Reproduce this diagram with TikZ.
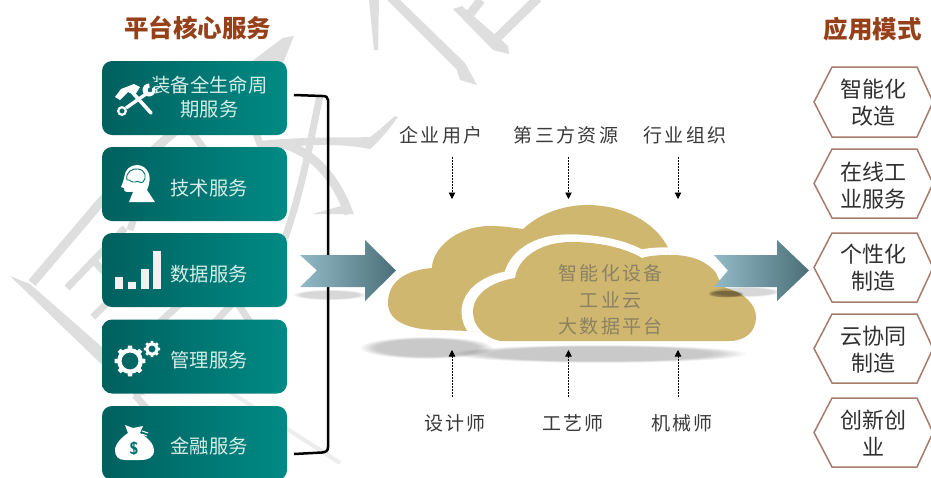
\documentclass[tikz,border=0pt]{standalone}
\usepackage{fontspec}
\newfontfamily\cjk{Noto Sans CJK SC}
\newfontfamily\cjksp[LetterSpace=12]{Noto Sans CJK SC}
\usetikzlibrary{arrows.meta}
\definecolor{wm}{HTML}{DEDEDE}
\definecolor{tealL}{HTML}{00605E}
\definecolor{tealR}{HTML}{008A85}
\definecolor{tealM}{HTML}{00706C}
\definecolor{boxtxt}{HTML}{D5EEE8}
\definecolor{titlec}{HTML}{96401A}
\definecolor{cloudc}{HTML}{CFB76F}
\definecolor{cloudt}{HTML}{8C8263}
\definecolor{hexe}{HTML}{A67C6C}
\definecolor{hext}{HTML}{303030}
\definecolor{arrL}{HTML}{92BAC6}
\definecolor{arrR}{HTML}{4A6F79}
\definecolor{lab}{HTML}{3A3A3A}
\tikzset{
  wmstroke/.style={draw=wm,line width=9pt,line cap=butt},
  wmthin/.style={draw=wm,line width=7pt,line cap=butt},
  svcbox/.style={rounded corners=10pt,minimum width=185pt,minimum height=74pt,inner sep=0pt,left color=tealL,right color=tealR,draw=none},
  svctxt/.style={font=\cjk\fontsize{19.3}{23}\selectfont,text=boxtxt,align=center,inner sep=0pt},
  hdr/.style={font=\cjk\bfseries\fontsize{24.5}{28}\selectfont,text=titlec,inner sep=0pt},
  hexbox/.style={draw=hexe,line width=1.5pt,fill=white,line join=miter},
  hextxt/.style={font=\cjk\fontsize{22}{27}\selectfont,text=hext,align=center,inner sep=0pt},
  lbl/.style={font=\cjksp\fontsize{19}{22}\selectfont,text=lab,inner sep=0pt},
  cloudlbl/.style={font=\cjksp\fontsize{19}{26.5}\selectfont,text=cloudt,align=center,inner sep=0pt},
  dasharrow/.style={draw=black,line width=.8pt,dash pattern=on 1.8pt off 1.2pt,-{Triangle[width=6.5pt,length=6.5pt]}},
  bracketline/.style={draw=black,line width=2.5pt},
  bigarrow/.style={left color=arrL,right color=arrR,draw=none},
}
\newcommand{\softblob}[5]{% cx cy rx ry opacity
  \foreach \k in {1.0,.97,.94,.91,.88,.85,.82,.78}{
    \fill[black,opacity=#5] (#1,#2) ellipse ({#3*\k} and {#4*\k});
  }}
\newcommand{\gearicon}[6]{% cx cy r-inner r-body r-tooth half-width(deg)
  \foreach \ang in {0,45,...,315}{
    \fill[white] ({#1+#4*cos(\ang-#6)},{#2+#4*sin(\ang-#6)}) -- ({#1+#5*cos(\ang-#6*.7)},{#2+#5*sin(\ang-#6*.7)}) -- ({#1+#5*cos(\ang+#6*.7)},{#2+#5*sin(\ang+#6*.7)}) -- ({#1+#4*cos(\ang+#6)},{#2+#4*sin(\ang+#6)}) -- cycle;
  }
  \fill[white,even odd rule] (#1,#2) circle (#4+.4) (#1,#2) circle (#3);
}
\newcommand{\hexa}[2]{% top bottom
  \path[hexbox] (832,#1) -- (917,#1) -- (933,{(#1+#2)/2}) -- (917,#2) -- (832,#2) -- (814,{(#1+#2)/2}) -- cycle;}
\def\frontcloud{(500,341) .. controls (483,337) and (473,325) .. (473,312)
  .. controls (473,295) and (490,282) .. (515,278)
  .. controls (518,258) and (540,242) .. (571,242)
  .. controls (600,242) and (625,248) .. (642,258)
  .. controls (652,255) and (662,255) .. (672,255)
  .. controls (692,255) and (708,262) .. (716,273)
  .. controls (719,280) and (722,285) .. (726,288)
  .. controls (745,293) and (756,305) .. (756,317)
  .. controls (756,332) and (745,341) .. (729,341) -- cycle}
\def\backcloud{(439,330) .. controls (410,330) and (388,322) .. (388,303)
  .. controls (388,282) and (405,270) .. (432,268)
  .. controls (432,250) and (455,226) .. (490,226)
  .. controls (505,226) and (515,228) .. (523,229)
  .. controls (540,213) and (565,205) .. (587,205)
  .. controls (630,205) and (660,228) .. (669,250)
  -- (650,300) -- (500,332) -- cycle}
\begin{document}
\begin{tikzpicture}[x=1pt,y=-1pt]
\clip (0,0) rectangle (931,477);
\fill[white] (0,0) rectangle (931,477);
% watermark
\fill[wm] (387,0) -- (400,0) -- (465,63) -- (477,85) -- (460,80) -- (457,70) -- cycle;
\fill[wm] (369,0) -- (379,0) -- (378,50) -- (374,50) -- cycle;
\fill[wm] (453,9) -- (462,6) -- (508,46) -- (509,54) -- (493,50) -- cycle;
\path[wmstroke] (538,-2) -- (495,40);
\path[wmstroke] (481,0) -- (470,14);
\fill[wm] (398,117) .. controls (385,135) and (375,145) .. (370,149) .. controls (350,145) and (320,142) .. (260,150) -- (260,141) .. controls (310,136) and (350,138) .. (370,137) .. controls (380,130) and (390,120) .. (395,116) -- cycle;
\path[wmstroke] (280,143) .. controls (310,150) and (335,175) .. (349,214);
\fill[wm] (312,214) -- (345,205) -- (354,214) -- cycle;
\path[wmthin] (320,96) .. controls (312,130) and (305,180) .. (285,238);
\fill[wm] (294,36) -- (283,38) -- (240,95) -- (270,95) -- cycle;
\path[wmstroke] (285,42) .. controls (220,90) and (150,150) .. (100,203) -- (32,283);
\fill[wm] (10,276) -- (30,284) -- (103,348) -- (145,395) -- (135,396) -- (95,358) -- cycle;
\path[wmthin] (67,288) -- (125,228);
\path[wmthin] (93,317) -- (125,285);
\path[wmthin] (95,262) -- (135,305);
\path[wmthin] (160,322) -- (190,295);
\path[wmthin] (215,322) -- (245,290);
\path[wmthin] (232,295) -- (252,325);
\path[wmthin] (190,130) -- (205,150);
\path[wmthin] (255,130) -- (262,150);
\path[wmthin] (135,215) -- (130,230);
\path[wmthin] (135,395) -- (165,430);
\draw[wm!55,line width=4pt] (207,377) -- (340,463);
% service boxes
\node[svcbox] (box1) at (194.5,98) {};
\node[svcbox] (box2) at (194.5,184) {};
\node[svcbox] (box3) at (194.5,270) {};
\node[svcbox] (box4) at (194.5,356.5) {};
\node[svcbox] (box5) at (194.5,443) {};
% bracket
\coordinate (brT) at (294,95);
\coordinate (brB) at (294,454);
\path[bracketline] (brT) -- (322,96) .. controls (326,96) and (328,97) .. (328,100) -- (328,447) .. controls (328,451) and (326,452) .. (322,452.5) -- (brB);
% titles
\node[hdr] (title1) at (197.5,28) {平台核心服务};
\node[hdr] (title2) at (872.5,29) {应用模式};
% box texts
\node[svctxt,font=\cjk\fontsize{19.3}{24}\selectfont] (txt1) at (209.5,97) {装备全生命周\\期服务};
\node[svctxt] (txt2) at (209,188) {技术服务};
\node[svctxt] (txt3) at (209,274) {数据服务};
\node[svctxt] (txt4) at (209,360) {管理服务};
\node[svctxt] (txt5) at (209,446) {金融服务};
% tools icon
\draw[white,line width=3.6pt,line cap=round] (132,92) -- (151,113);
\fill[white] (115,97) -- (121,89) -- (134,84) -- (140,87) -- (135,95) -- (128,92) -- (120,100) -- cycle;
\draw[white,line width=3.4pt] (146,94) -- (126,108);
\draw[white,line width=2.2pt] (122,111) circle (3.8);
\fill[white] (149,90) circle (6.5);
\fill[tealM] (150,90) -- (160,82) -- (149,82) -- cycle;
\fill[tealM] (150,90) circle (2.3);
% head icon
\fill[white] (129,202) -- (155,202) -- (147,190) .. controls (150,183) and (150,178) .. (149,174)
  .. controls (147,168) and (142,165) .. (137,165) .. controls (130,165) and (125,170) .. (124.5,176)
  -- (123,182) -- (121,187) -- (124,188) -- (124.5,191) .. controls (127,193) and (132,191) .. (133,192) -- cycle;
\draw[tealM,line width=.9pt] (127,180) .. controls (125,172) and (133,168) .. (138,169) .. controls (146,170) and (147,178) .. (143,182) .. controls (140,184) and (139,180) .. (135,182) .. controls (131,183) and (130,179) .. (127,180);
% bars icon
\fill[white!95!black] (114.5,277) rectangle (122.5,289);
\fill[white!95!black] (127.5,282) rectangle (135.5,289);
\fill[white!95!black] (140.7,269) rectangle (148.7,289);
\fill[white!95!black] (153.3,251) rectangle (161,289);
% gears
\gearicon{130}{361}{8.5}{12.5}{15.5}{11}
\gearicon{152}{349}{3.6}{6.2}{8.2}{13}
% money bag
\fill[white] (125,425) -- (133,428) -- (143,426) -- (140,433) .. controls (148,438) and (154,444) .. (154,450) .. controls (154,458) and (148,460) .. (140,460) -- (125,460) .. controls (118,460) and (115,456) .. (115,450) .. controls (115,444) and (122,437) .. (128,433) -- cycle;
\draw[white,line width=1pt] (142,431) -- (148,433);
\draw[white,line width=1pt] (142,434) -- (147,436);
\node[font=\sffamily\bfseries\fontsize{17}{17}\selectfont,text=tealM,inner sep=0pt] (dollar) at (134,449) {\$};
% cloud shadows
\softblob{427}{348}{66}{11}{.028}
\softblob{600}{354}{146}{9}{.028}
\softblob{330}{295}{37}{5}{.02}
% clouds
\fill[cloudc] \backcloud;
\begin{scope}
\clip \backcloud;
\draw[white,line width=15pt] \frontcloud;
\draw[white,line width=15pt,xshift=-4pt] \frontcloud;
\end{scope}
\fill[cloudc] \frontcloud;
\node[cloudlbl] (cloudtxt) at (610.5,300) {智能化设备\\工业云\\大数据平台};
% big arrows
\softblob{745}{292}{36}{5}{.02}
\softblob{726}{294}{18}{3.5}{.045}
\path[bigarrow] (300,255) -- (365,255) -- (365,240) -- (396,270.5) -- (365,301) -- (365,287) -- (300,287) -- (317,270.5) -- cycle;
\path[bigarrow] (714,255) -- (777,255) -- (777,240) -- (809,270.5) -- (777,301) -- (777,287) -- (714,287) -- (728,270.5) -- cycle;
% top labels and arrows
\node[lbl] (u1) at (441,135) {企业用户};
\node[lbl] (u2) at (566,135) {第三方资源};
\node[lbl] (u3) at (685,135) {行业组织};
\coordinate (ua1) at (452,157); \coordinate (ub1) at (452,199);
\coordinate (ua2) at (568.5,157); \coordinate (ub2) at (568.5,199);
\coordinate (ua3) at (678,157); \coordinate (ub3) at (678,199);
\draw[dasharrow] (ua1) -- (ub1);
\draw[dasharrow] (ua2) -- (ub2);
\draw[dasharrow] (ua3) -- (ub3);
% bottom labels and arrows
\node[lbl] (d1) at (455,423) {设计师};
\node[lbl] (d2) at (573,423) {工艺师};
\node[lbl] (d3) at (682,423) {机械师};
\coordinate (da1) at (452,397); \coordinate (db1) at (452,350);
\coordinate (da2) at (568.5,397); \coordinate (db2) at (568.5,350);
\coordinate (da3) at (678,397); \coordinate (db3) at (678,350);
\draw[dasharrow] (da1) -- (db1);
\draw[dasharrow] (da2) -- (db2);
\draw[dasharrow] (da3) -- (db3);
% hexagons
\hexa{67}{137}
\hexa{149}{218}
\hexa{233}{302}
\hexa{314}{383}
\hexa{398}{467}
\node[hextxt] (h1) at (873,103) {智能化\\改造};
\node[hextxt] (h2) at (873,186) {在线工\\业服务};
\node[hextxt] (h3) at (873,267.5) {个性化\\制造};
\node[hextxt] (h4) at (873,350) {云协同\\制造};
\node[hextxt] (h5) at (873,433.5) {创新创\\业};
\end{tikzpicture}
\end{document}
